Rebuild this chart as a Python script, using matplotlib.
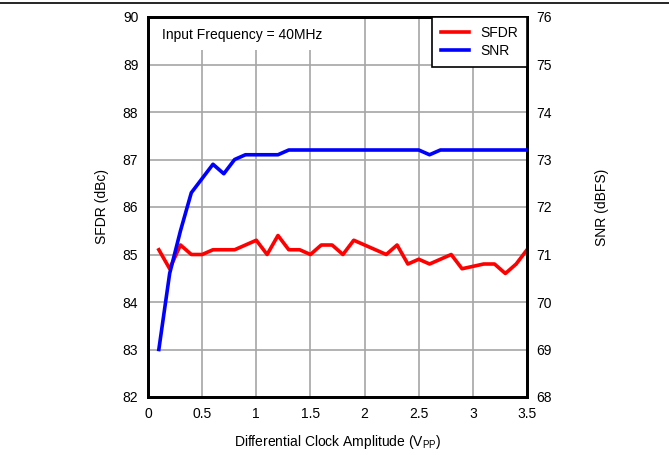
import numpy as np
import matplotlib
matplotlib.use("Agg")
import matplotlib.pyplot as plt
from matplotlib.lines import Line2D
from matplotlib.patches import Rectangle

plt.rcParams["font.family"] = ["Liberation Sans", "DejaVu Sans"]

# differential clock amplitude (Vpp)
amplitude = [0.1, 0.2, 0.3, 0.4, 0.5, 0.6, 0.7, 0.8, 0.9, 1.0,
             1.1, 1.2, 1.3, 1.4, 1.5, 1.6, 1.7, 1.8, 1.9, 2.0,
             2.1, 2.2, 2.3, 2.4, 2.5, 2.6, 2.7, 2.8, 2.9, 3.0,
             3.1, 3.2, 3.3, 3.4, 3.5]
sfdr = [85.1, 84.7, 85.2, 85.0, 85.0, 85.1, 85.1, 85.1, 85.2, 85.3,
        85.0, 85.4, 85.1, 85.1, 85.0, 85.2, 85.2, 85.0, 85.3, 85.2,
        85.1, 85.0, 85.2, 84.8, 84.9, 84.8, 84.9, 85.0, 84.7, 84.75,
        84.8, 84.8, 84.6, 84.8, 85.1]
snr = [69.0, 70.6, 71.5, 72.3, 72.6, 72.9, 72.7, 73.0, 73.1, 73.1,
       73.1, 73.1, 73.2, 73.2, 73.2, 73.2, 73.2, 73.2, 73.2, 73.2,
       73.2, 73.2, 73.2, 73.2, 73.2, 73.1, 73.2, 73.2, 73.2, 73.2,
       73.2, 73.2, 73.2, 73.2, 73.2]

x_ticks = [0, 0.5, 1, 1.5, 2, 2.5, 3, 3.5]
x_ticklabels = ["0", "0.5", "1", "1.5", "2", "2.5", "3", "3.5"]
sfdr_ticks = list(range(82, 91))
snr_ticks = list(range(68, 77))

fig = plt.figure(figsize=(6.69, 4.55), dpi=100)
ax = fig.add_axes([148 / 669, 1 - 397 / 455, 379 / 669, 380 / 455])
ax2 = ax.twinx()

# top rule across the page
fig.add_artist(Line2D([0, 1], [1 - 2.5 / 455] * 2, transform=fig.transFigure,
                      color="black", lw=1.2))

ax.set_xlim(0, 3.5)
ax.set_ylim(82, 90)
ax2.set_ylim(68, 76)
ax.set_xticks(x_ticks)
ax.set_xticklabels(x_ticklabels)
ax.set_yticks(sfdr_ticks)
ax2.set_yticks(snr_ticks)

ax.grid(True, color="#a6a6a6", lw=1.2)
ax.set_axisbelow(True)

for a in (ax, ax2):
    a.tick_params(length=0, labelsize=10, pad=7)
    for s in a.spines.values():
        s.set_linewidth(2)
        s.set_color("black")

l1, = ax.plot(amplitude, sfdr, color="#ff0000", lw=2.6, label="SFDR", zorder=3)
l2, = ax2.plot(amplitude, snr, color="#0000ff", lw=2.6, label="SNR", zorder=3)

ax.set_ylabel("SFDR (dBc)", fontsize=10, labelpad=10)
ax2.set_ylabel("SNR (dBFS)", fontsize=10, labelpad=31)
ax.set_xlabel(r"Differential Clock Amplitude (V$_\mathregular{PP}$)", fontsize=10, labelpad=9)

# white box behind the annotation
ax.add_patch(Rectangle((0, 1 - 33 / 380), 180 / 379, 33 / 380, transform=ax.transAxes,
                       facecolor="white", edgecolor="none", zorder=1.5))
ax.text(0.038, 0.952, "Input Frequency = 40MHz", transform=ax.transAxes,
        fontsize=10, va="center", ha="left", zorder=2)

leg = ax2.legend(handles=[l1, l2], loc="upper right", bbox_to_anchor=(1, 1),
                 borderaxespad=0, fancybox=False, edgecolor="black",
                 framealpha=1, fontsize=10, handlelength=2.0, handletextpad=0.8,
                 labelspacing=0.3, borderpad=0.65)
leg.get_frame().set_linewidth(1.2)

fig.savefig("out.png", dpi=100)
